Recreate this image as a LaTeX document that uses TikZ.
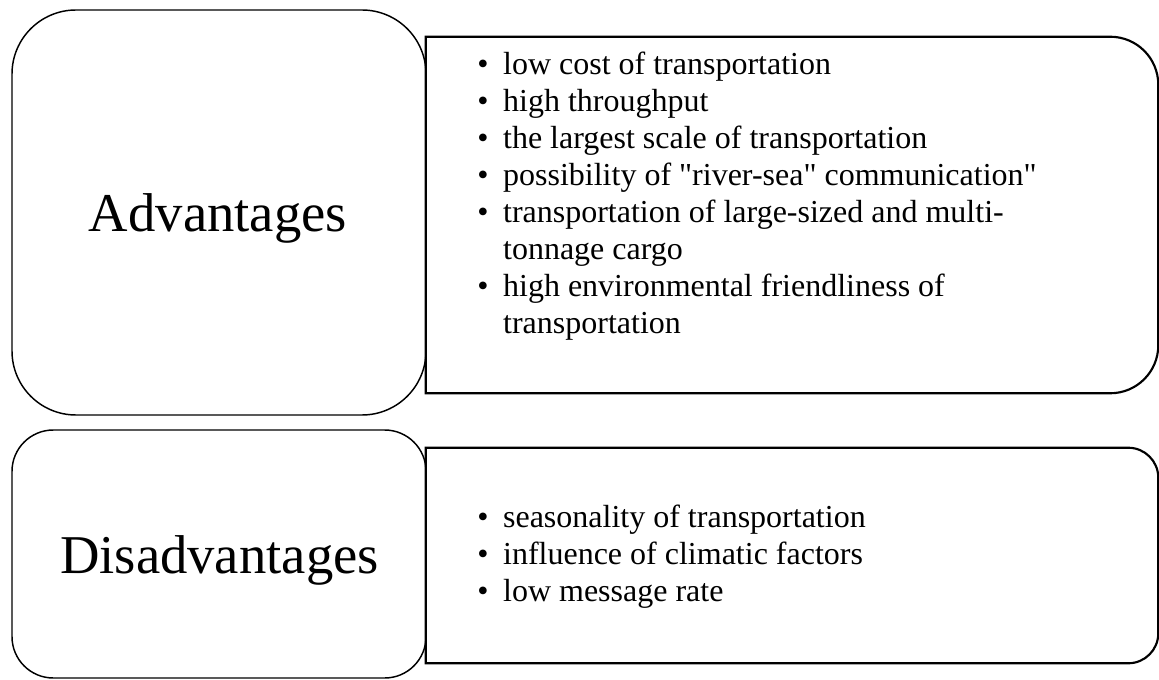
\documentclass[tikz,border=0pt]{standalone}
\usepackage{fontspec}
\setmainfont{Liberation Serif}
\usetikzlibrary{positioning}

\begin{document}
\begin{tikzpicture}[
        x=0.75pt, y=-0.75pt,
        label box/.style={draw, line width=1.1pt, rounded corners=#1, minimum width=310.5pt, inner sep=0pt},
        panel/.style={minimum width=549pt, inner sep=0pt},
        panel line/.style={line width=1.6pt},
        heading/.style={font=\fontsize{41}{49}\selectfont, anchor=base, inner sep=0pt},
        list/.style={font=\fontsize{24}{27.75}\selectfont, anchor=base west, inner sep=0pt}
    ]
        \useasboundingbox (0,0) rectangle (1159,680);

        % Advantages
        \node[label box=48pt, minimum height=303.75pt] (advbox) at (219, 212.5) {};
        \node[heading] (advtitle) at (218, 232) {Advantages};

        \node[panel, minimum height=267pt] (advpanel) at (792, 215) {};
        \draw[panel line] (advpanel.south west) -- (advpanel.north west)
            -- ([xshift=-36pt]advpanel.north east) arc[start angle=90, end angle=0, radius=36pt]
            -- ([yshift=36pt]advpanel.south east) arc[start angle=0, end angle=-90, radius=36pt]
            -- cycle;
        \node[list] (advlist) at (477, 75) {\begin{tabular}[t]{@{}l@{\hspace{11pt}}l@{}}
            \textbullet & low cost of transportation\\
            \textbullet & high throughput\\
            \textbullet & the largest scale of transportation\\
            \textbullet & possibility of \textquotedbl river-sea\textquotedbl{} communication\textquotedbl\\
            \textbullet & transportation of large-sized and multi-\\
                        & tonnage cargo\\
            \textbullet & high environmental friendliness of\\
                        & transportation
        \end{tabular}};

        % Disadvantages
        \node[label box=31pt, minimum height=186pt] (disbox) at (219, 554) {};
        \node[heading] (distitle) at (219.5, 573) {Disadvantages};

        \node[panel, minimum height=161.25pt] (dispanel) at (792, 555.5) {};
        \draw[panel line] (dispanel.south west) -- (dispanel.north west)
            -- ([xshift=-22.5pt]dispanel.north east) arc[start angle=90, end angle=0, radius=22.5pt]
            -- ([yshift=22.5pt]dispanel.south east) arc[start angle=0, end angle=-90, radius=22.5pt]
            -- cycle;
        \node[list] (dislist) at (477, 527) {\begin{tabular}[t]{@{}l@{\hspace{11pt}}l@{}}
            \textbullet & seasonality of transportation\\
            \textbullet & influence of climatic factors\\
            \textbullet & low message rate
        \end{tabular}};
    \end{tikzpicture}
\end{document}
